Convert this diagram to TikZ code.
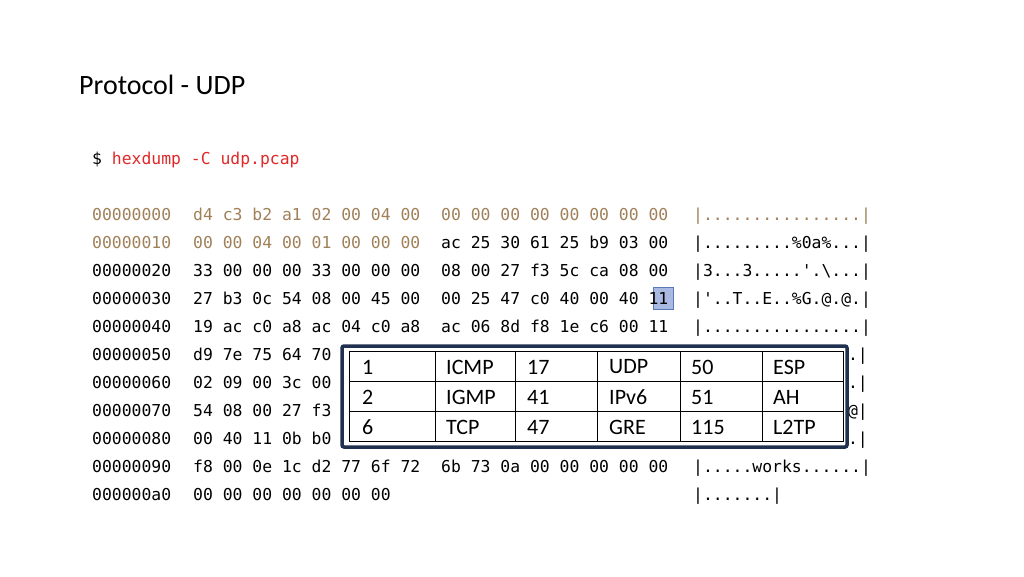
\documentclass[tikz,border=0pt]{standalone}
\usepackage{fontspec}
\setmainfont{Carlito}
\newfontfamily\hexfont{DejaVu Sans Mono}
\definecolor{brn}{HTML}{A08058}
\definecolor{cmdred}{HTML}{E02828}
\definecolor{navy}{HTML}{1F3050}
\definecolor{hlfill}{HTML}{A9B9E2}
\definecolor{hlline}{HTML}{5A78B8}
\begin{document}
\begin{tikzpicture}[x=1pt,y=-1pt,
  hx/.style={anchor=base west,inner sep=0pt,font=\hexfont\fontsize{16.4}{18}\selectfont},
  br/.style={hx,text=brn},
  cell/.style={anchor=west,inner sep=0pt,font=\fontsize{22}{24}\selectfont}]
\useasboundingbox (0,0) rectangle (1024,576);
\node[anchor=base west,inner sep=0pt,font=\fontsize{28}{30}\selectfont] (title) at (79,94) {Protocol - UDP};
\node[hx] (cmd) at (92,164) {\$ \textcolor{cmdred}{hexdump -C udp.pcap}};
% highlight
\node[draw=hlline,fill=hlfill,line width=0.8pt,minimum width=20pt,minimum height=22pt,inner sep=0pt] (hl) at (663,298) {};
% rows
\node[br] (o0) at (92,220) {00000000};
\node[br] (g10) at (193,220) {d4 c3 b2 a1 02 00 04 00};
\node[br] (g20) at (441,220) {00 00 00 00 00 00 00 00};
\node[br] (a0) at (693,220) {|................|};
\node[br] (o1) at (92,248) {00000010};
\node[br] (g11) at (193,248) {00 00 04 00 01 00 00 00};
\node[hx] (g21) at (441,248) {ac 25 30 61 25 b9 03 00};
\node[hx] (a1) at (693,248) {|.........\%0a\%...|};
\node[hx] (o2) at (92,276) {00000020};
\node[hx] (g12) at (193,276) {33 00 00 00 33 00 00 00};
\node[hx] (g22) at (441,276) {08 00 27 f3 5c ca 08 00};
\node[hx] (a2) at (693,276) {|3...3.....'.\textbackslash...|};
\node[hx] (o3) at (92,304) {00000030};
\node[hx] (g13) at (193,304) {27 b3 0c 54 08 00 45 00};
\node[hx] (g23) at (441,304) {00 25 47 c0 40 00 40 11};
\node[hx] (a3) at (693,304) {|'..T..E..\%G.@.@.|};
\node[hx] (o4) at (92,332) {00000040};
\node[hx] (g14) at (193,332) {19 ac c0 a8 ac 04 c0 a8};
\node[hx] (g24) at (441,332) {ac 06 8d f8 1e c6 00 11};
\node[hx] (a4) at (693,332) {|................|};
\node[hx] (o5) at (92,360) {00000050};
\node[hx] (g15) at (193,360) {d9 7e 75 64 70};
\node[hx,anchor=base east] (a5) at (868,360) {.|};
\node[hx] (o6) at (92,388) {00000060};
\node[hx] (g16) at (193,388) {02 09 00 3c 00};
\node[hx,anchor=base east] (a6) at (868,388) {.|};
\node[hx] (o7) at (92,416) {00000070};
\node[hx] (g17) at (193,416) {54 08 00 27 f3};
\node[hx,anchor=base east] (a7) at (868,416) {@|};
\node[hx] (o8) at (92,444) {00000080};
\node[hx] (g18) at (193,444) {00 40 11 0b b0};
\node[hx,anchor=base east] (a8) at (868,444) {.|};
\node[hx] (o9) at (92,472) {00000090};
\node[hx] (g19) at (193,472) {f8 00 0e 1c d2 77 6f 72};
\node[hx] (g29) at (441,472) {6b 73 0a 00 00 00 00 00};
\node[hx] (a9) at (693,472) {|.....works......|};
\node[hx] (oa) at (92,500) {000000a0};
\node[hx] (g1a) at (193,500) {00 00 00 00 00 00 00};
\node[hx] (aa) at (693,500) {|.......|};
% table
\draw[navy,line width=3.5pt,fill=white,rounded corners=2pt] (342,346) rectangle (847,447);
\draw[line width=0.9pt] (349,351) rectangle (843,441);
\foreach \y in {381,411} \draw[line width=0.9pt] (349,\y) -- (843,\y);
\foreach \x in {435,515,597,680,762} \draw[line width=0.9pt] (\x,351) -- (\x,441);
\foreach \r/\y in {0/366,1/396,2/426}{}
\node[cell] (c11) at (362,367) {1};
\node[cell] (c12) at (446,367) {ICMP};
\node[cell] (c13) at (527,367) {17};
\node[cell] (c14) at (609,367) {UDP};
\node[cell] (c15) at (691,367) {50};
\node[cell] (c16) at (773,367) {ESP};
\node[cell] (c21) at (362,397) {2};
\node[cell] (c22) at (446,397) {IGMP};
\node[cell] (c23) at (527,397) {41};
\node[cell] (c24) at (609,397) {IPv6};
\node[cell] (c25) at (691,397) {51};
\node[cell] (c26) at (773,397) {AH};
\node[cell] (c31) at (362,427) {6};
\node[cell] (c32) at (446,427) {TCP};
\node[cell] (c33) at (527,427) {47};
\node[cell] (c34) at (609,427) {GRE};
\node[cell] (c35) at (691,427) {115};
\node[cell] (c36) at (773,427) {L2TP};
\end{tikzpicture}
\end{document}
